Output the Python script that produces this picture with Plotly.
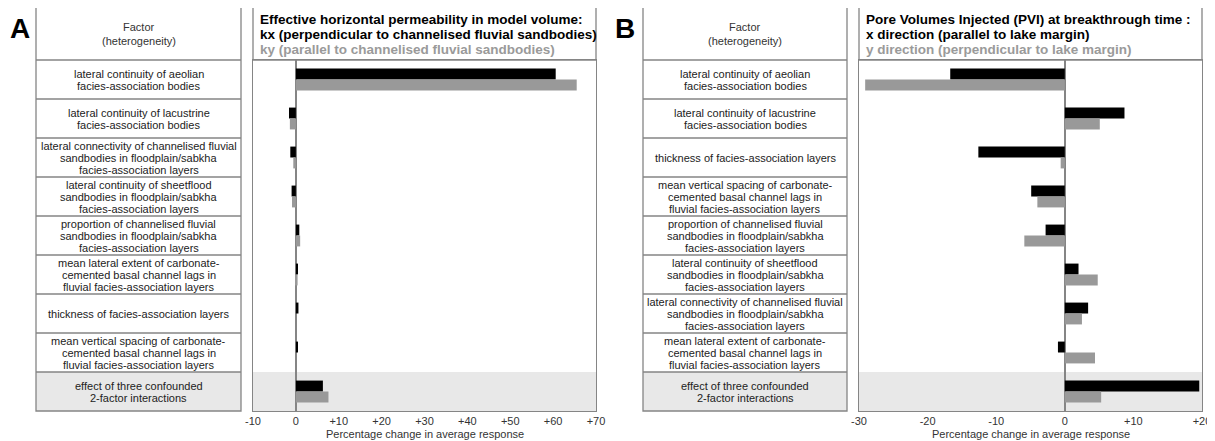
import plotly.graph_objects as go

# ---------------- data ----------------
factors_A = [
    "lateral continuity of aeolian<br>facies-association bodies",
    "lateral continuity of lacustrine<br>facies-association bodies",
    "lateral connectivity of channelised fluvial<br>sandbodies in floodplain/sabkha<br>facies-association layers",
    "lateral continuity of sheetflood<br>sandbodies in floodplain/sabkha<br>facies-association layers",
    "proportion of channelised fluvial<br>sandbodies in floodplain/sabkha<br>facies-association layers",
    "mean lateral extent of carbonate-<br>cemented basal channel lags in<br>fluvial facies-association layers",
    "thickness of facies-association layers",
    "mean vertical spacing of carbonate-<br>cemented basal channel lags in<br>fluvial facies-association layers",
    "effect of three confounded<br>2-factor interactions",
]
kx_A = [60.6, -1.6, -1.3, -1.0, 0.8, 0.5, 0.6, 0.5, 6.3]
ky_A = [65.5, -1.4, -0.6, -0.9, 1.0, 0.4, 0.0, 0.0, 7.6]

factors_B = [
    "lateral continuity of aeolian<br>facies-association bodies",
    "lateral continuity of lacustrine<br>facies-association bodies",
    "thickness of facies-association layers",
    "mean vertical spacing of carbonate-<br>cemented basal channel lags in<br>fluvial facies-association layers",
    "proportion of channelised fluvial<br>sandbodies in floodplain/sabkha<br>facies-association layers",
    "lateral continuity of sheetflood<br>sandbodies in floodplain/sabkha<br>facies-association layers",
    "lateral connectivity of channelised fluvial<br>sandbodies in floodplain/sabkha<br>facies-association layers",
    "mean lateral extent of carbonate-<br>cemented basal channel lags in<br>fluvial facies-association layers",
    "effect of three confounded<br>2-factor interactions",
]
x_B = [-16.7, 8.7, -12.6, -4.9, -2.8, 2.0, 3.4, -1.0, 19.6]
y_B = [-29.1, 5.1, -0.6, -4.0, -5.9, 4.8, 2.5, 4.4, 5.3]

ticks_A = [-10, 0, 10, 20, 30, 40, 50, 60, 70]
ticks_B = [-30, -20, -10, 0, 10, 20]

def tick_text(v):
    return "+%d" % v if v > 0 else str(v)

title_A = ["Effective horizontal permeability in model volume:",
           "kx (perpendicular to channelised fluvial sandbodies)",
           "ky (parallel to channelised fluvial sandbodies)"]
title_B = ["Pore Volumes Injected (PVI) at breakthrough time :",
           "x direction (parallel to lake margin)",
           "y direction (perpendicular to lake margin)"]
header_lines = ["Factor", "(heterogeneity)"]
axis_title = "Percentage change in average response"

# ---------------- layout geometry ----------------
OFF = 8                      # page body margin
W, H = 1215 - OFF, 441 - OFF
FONT = "Liberation Sans, Arial, sans-serif"
BLACK = "#000000"
GREY = "#999999"
LINE = "#858585"
LW = 1.3
SHADE = "#e8e8e8"

def px(x):
    return (x - OFF) / W

def py(y):
    return 1 - (y - OFF) / H

panels = [
    dict(tx0=36, tx1=241, cx0=253, cx1=596, lx=20, xa="x", ya="y",
         factors=factors_A, s1=kx_A, s2=ky_A, ticks=ticks_A, rng=[-10, 70],
         title=title_A, letter="A"),
    dict(tx0=643, tx1=847, cx0=859, cx1=1202, lx=625, xa="x2", ya="y2",
         factors=factors_B, s1=x_B, s2=y_B, ticks=ticks_B, rng=[-30, 20],
         title=title_B, letter="B"),
]
TOP, HEAD, BOT = 7, 60, 411
n = len(factors_A)
ROWH = (BOT - HEAD) / n
LS = 12.3  # line spacing in table

fig = go.Figure()
shapes = []
annotations = []

def txt(text, x, y, size, color="#222", bold=False, xanchor="center"):
    if bold:
        text = "<b>%s</b>" % text
    annotations.append(dict(text=text, xref="paper", yref="paper", x=px(x), y=py(y),
                            xanchor=xanchor, yanchor="middle", showarrow=False,
                            font=dict(family=FONT, size=size, color=color)))

for p in panels:
    idx = list(range(n))
    fig.add_trace(go.Bar(
        x=p["s1"], y=idx, orientation="h", xaxis=p["xa"], yaxis=p["ya"],
        marker=dict(color=BLACK, line=dict(width=0)),
        hoverinfo="skip", showlegend=False))
    fig.add_trace(go.Bar(
        x=p["s2"], y=idx, orientation="h", xaxis=p["xa"], yaxis=p["ya"],
        marker=dict(color=GREY, line=dict(width=0)),
        hoverinfo="skip", showlegend=False))

    yref = p["ya"]
    # shaded interaction row (table + chart)
    for a, b in ((p["tx0"], p["tx1"]), (p["cx0"], p["cx1"])):
        shapes.append(dict(type="rect", xref="paper", yref=yref,
                           x0=px(a), x1=px(b), y0=n - 1.5, y1=n - 0.5,
                           fillcolor=SHADE, line=dict(width=0), layer="below"))
    # table outer box and header line
    shapes.append(dict(type="rect", xref="paper", yref="paper",
                       x0=px(p["tx0"]), x1=px(p["tx1"]), y0=py(BOT), y1=py(TOP),
                       line=dict(color=LINE, width=LW), layer="above"))
    shapes.append(dict(type="line", xref="paper", yref="paper",
                       x0=px(p["tx0"]), x1=px(p["tx1"]), y0=py(HEAD), y1=py(HEAD),
                       line=dict(color=LINE, width=LW)))
    for r in range(n - 1):
        shapes.append(dict(type="line", xref="paper", yref=yref,
                           x0=px(p["tx0"]), x1=px(p["tx1"]), y0=r + 0.5, y1=r + 0.5,
                           line=dict(color=LINE, width=LW)))
    # chart header box
    shapes.append(dict(type="rect", xref="paper", yref="paper",
                       x0=px(p["cx0"]), x1=px(p["cx1"]), y0=py(HEAD), y1=py(TOP),
                       line=dict(color=LINE, width=LW)))
    # table texts
    cx = (p["tx0"] + p["tx1"]) / 2
    txt(header_lines[0], cx, 27, 11, "#333")
    txt(header_lines[1], cx, 41, 11, "#333")
    for r, f in enumerate(p["factors"]):
        lines = f.split("<br>")
        yc = HEAD + (r + 0.5) * ROWH + 0.5
        for k, line in enumerate(lines):
            txt(line, cx, yc + (k - (len(lines) - 1) / 2) * LS, 11, "#222")
    # chart title lines
    for k, line in enumerate(p["title"]):
        txt(line, p["cx0"] + 5, 19.5 + 15 * k, 13.5,
            "#000" if k < 2 else "#9a9a9a", bold=True, xanchor="left")
    # x-axis title
    txt(axis_title, (p["cx0"] + p["cx1"]) / 2, 434, 11, "#333")
    # panel letter
    txt(p["letter"], p["lx"], 28, 28, "#000", bold=True)

ydom = [py(BOT), py(HEAD)]
common_x = dict(showgrid=False, showline=True, mirror=True, linecolor=LINE,
                linewidth=LW, zeroline=True, zerolinecolor="#858585", zerolinewidth=1.5,
                ticks="", tickfont=dict(family=FONT, size=11, color="#333"),
                ticklabeloverflow="allow", automargin=False, fixedrange=True)
common_y = dict(range=[n - 0.5, -0.5], showgrid=False, showticklabels=False,
                showline=True, mirror=True, linecolor=LINE, linewidth=LW,
                zeroline=False, ticks="", domain=ydom, automargin=False,
                fixedrange=True)

fig.update_layout(
    width=W, height=H,
    margin=dict(l=0, r=0, t=0, b=0, autoexpand=False),
    paper_bgcolor="white", plot_bgcolor="rgba(0,0,0,0)",
    barmode="group", bargap=0.44, bargroupgap=0,
    xaxis=dict(common_x, domain=[px(253), px(596)], range=panels[0]["rng"],
               tickvals=ticks_A, ticktext=[tick_text(v) for v in ticks_A], anchor="y"),
    yaxis=dict(common_y, anchor="x"),
    xaxis2=dict(common_x, domain=[px(859), px(1202)], range=panels[1]["rng"],
                tickvals=ticks_B, ticktext=[tick_text(v) for v in ticks_B], anchor="y2"),
    yaxis2=dict(common_y, anchor="x2"),
    shapes=shapes, annotations=annotations,
    font=dict(family=FONT),
)

fig.write_html("out.html")
